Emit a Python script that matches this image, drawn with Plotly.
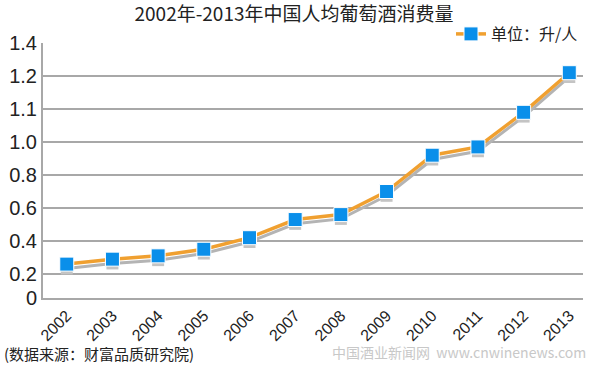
import numpy as np
import plotly.graph_objects as go

years = ["2002", "2003", "2004", "2005", "2006", "2007", "2008", "2009", "2010", "2011", "2012", "2013"]
consumption = [0.26, 0.29, 0.31, 0.35, 0.42, 0.53, 0.56, 0.70, 0.92, 0.97, 1.09, 1.22]
tick_values = [0, 0.2, 0.4, 0.6, 0.8, 1.0, 1.1, 1.2, 1.4]
tick_text = ["0", "0.2", "0.4", "0.6", "0.8", "1.0", "1.1", "1.2", "1.4"]

# The original axis is drawn with evenly spaced (non-linear) tick labels;
# map values onto that scale piecewise between tick labels.
bottom_pos = 1 - 24 / 33
tick_pos = [bottom_pos] + list(range(1, len(tick_values)))
y_scaled = np.interp(consumption, tick_values, tick_pos)
shadow_offset = 0.13

FONT = "Liberation Sans, Arial, Noto Sans CJK SC, sans-serif"
CJK = "Noto Sans CJK SC, Liberation Sans, sans-serif"

PLOT_H = 366 - 43 - 68

fig = go.Figure()
fig.add_trace(go.Scatter(
    x=years, y=y_scaled - shadow_offset, mode="lines+markers",
    line=dict(color="#b4b4b4", width=3),
    marker=dict(symbol="square", size=12, color="#c4c4c4"),
    showlegend=False, hoverinfo="skip"))
fig.add_trace(go.Scatter(
    x=years, y=y_scaled, mode="lines+markers", name="单位：升/人",
    line=dict(color="#F0A030", width=3.5),
    marker=dict(symbol="square", size=14, color="#0A8FEA",
                line=dict(color="white", width=1)),
    customdata=consumption, hovertemplate="%{x}: %{customdata}<extra></extra>"))

fig.update_layout(
    width=600, height=366,
    margin=dict(l=43, r=17, t=43, b=68, autoexpand=False),
    paper_bgcolor="white", plot_bgcolor="white",
    font=dict(family=FONT, color="#222"),
    title=dict(text="2002年-2013年中国人均葡萄酒消费量", x=0.49, xanchor="center",
               y=0.98, yanchor="top", font=dict(family=CJK, size=19, color="#222")),
    legend=dict(x=1.0, xanchor="right", y=(298 - 34) / PLOT_H, yanchor="middle",
                font=dict(family=CJK, size=16, color="#222"),
                bgcolor="rgba(0,0,0,0)", itemwidth=30,
                tracegroupgap=0),
    showlegend=True,
)
fig.update_xaxes(
    type="category", range=[-0.52, 11.3], automargin=False,
    showgrid=False, showline=True, linecolor="#a8a8a8", linewidth=2,
    ticks="", tickangle=-45, tickfont=dict(size=16, color="#222", family=FONT),
)
fig.update_yaxes(
    range=[bottom_pos, 8], tickvals=tick_pos, ticktext=tick_text, automargin=False,
    showgrid=True, gridcolor="#a8a8a8", gridwidth=2,
    showline=True, linecolor="#a8a8a8", linewidth=2, zeroline=False,
    ticks="", tickfont=dict(size=20, color="#222", family=FONT),
)
fig.add_annotation(text="(数据来源：财富品质研究院)", xref="paper", yref="paper",
                   x=-41/540, y=(298 - 353) / PLOT_H, xanchor="left", yanchor="middle",
                   showarrow=False, font=dict(family=CJK, size=15, color="#222"))
fig.add_annotation(text="中国酒业新闻网  www.cnwinenews.com", xref="paper", yref="paper",
                   x=1.01, y=(298 - 352) / PLOT_H, xanchor="right", yanchor="middle",
                   showarrow=False, font=dict(family=CJK, size=14, color="#c8c8c8"))

fig.write_html("out.html", config={"displayModeBar": False},
               post_script="document.body.style.margin='0';document.body.style.overflow='hidden';")
